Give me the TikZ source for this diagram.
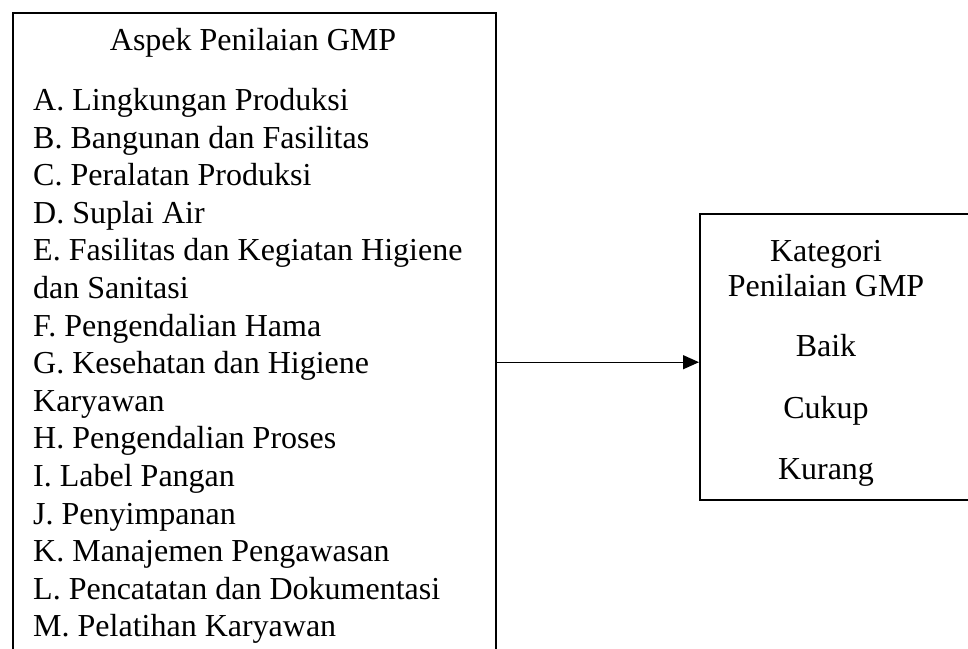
\documentclass[tikz,border=0pt]{standalone}
\usepackage{fontspec}
\setmainfont{Liberation Serif}
\usetikzlibrary{arrows.meta}
\begin{document}
\begin{tikzpicture}[x=1pt,y=-1pt,
  box/.style={draw,line width=2.4pt,inner sep=0pt},
  txt/.style={font=\fontsize{32}{37.6}\selectfont,inner sep=0pt},
  lst/.style={txt,align=left,anchor=north west},
  conn/.style={line width=1.3pt,-{Triangle[length=16pt,width=14pt]}}]
\useasboundingbox (0,0) rectangle (968,648);
\clip (0,0) rectangle (968,648);
\node[box,anchor=north west,minimum width=483pt,minimum height=698pt] (L) at (12,12) {};
\node[box,anchor=north west,minimum width=320pt,minimum height=286pt] (R) at (699,213) {};
\node[txt,anchor=base] (t1) at (253,50) {Aspek Penilaian GMP};
\node[lst] (list) at (33,88) {A. Lingkungan Produksi\\
B. Bangunan dan Fasilitas\\
C. Peralatan Produksi\\
D. Suplai Air\\
E. Fasilitas dan Kegiatan Higiene\\
dan Sanitasi\\
F. Pengendalian Hama\\
G. Kesehatan dan Higiene\\
Karyawan\\
H. Pengendalian Proses\\
I. Label Pangan\\
J. Penyimpanan\\
K. Manajemen Pengawasan\\
L. Pencatatan dan Dokumentasi\\
M. Pelatihan Karyawan};
\node[txt,anchor=base] (k1) at (826,261) {Kategori};
\node[txt,anchor=base] (k2) at (826,296) {Penilaian GMP};
\node[txt,anchor=base] (k3) at (826,356) {Baik};
\node[txt,anchor=base] (k4) at (826,418) {Cukup};
\node[txt,anchor=base] (k5) at (826,479) {Kurang};
\draw[conn] (L.east) -- (L.east -| R.west);
\end{tikzpicture}
\end{document}
